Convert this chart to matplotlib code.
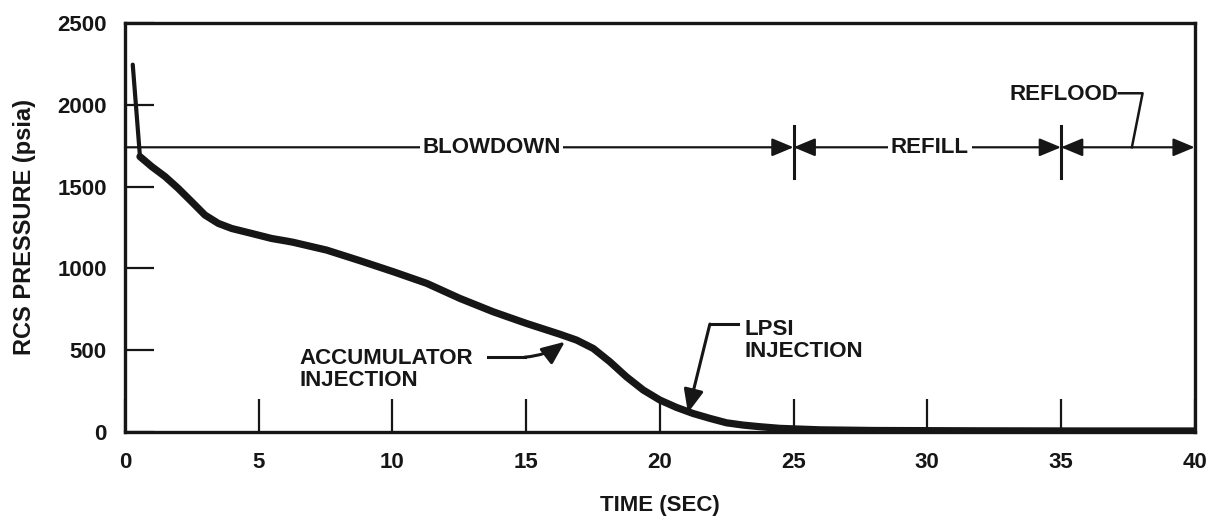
import matplotlib
matplotlib.use("Agg")
import matplotlib.pyplot as plt

# RCS pressure during a large break LOCA
time_s = [0.29, 0.56, 1.0, 1.5, 1.99, 2.49, 2.99, 3.49, 3.99, 4.73, 5.48,
          5.98, 6.28, 7.54, 8.79, 10.03, 11.28, 12.52, 13.77, 15.01, 16.26,
          16.89, 17.51, 18.13, 18.75, 19.38, 20.0, 20.62, 21.24, 21.87,
          22.49, 23.11, 23.74, 24.49, 26.0, 28.0, 32.0, 36.0, 40.0]
pressure_psia = [2245, 1683, 1622, 1561, 1489, 1408, 1326, 1275, 1244, 1214,
                 1183, 1169, 1160, 1112, 1047, 980, 909, 817, 735, 664, 598,
                 562, 511, 430, 338, 257, 196, 151, 114, 84, 57, 43, 33, 23,
                 14, 10, 8, 7, 7]

# phases: (label, start, end)
phases = [("BLOWDOWN", 0, 25), ("REFILL", 25, 35), ("REFLOOD", 35, 40)]
phase_level = 1740
x_ticks = [0, 5, 10, 15, 20, 25, 30, 35, 40]
y_ticks = [0, 500, 1000, 1500, 2000, 2500]

ink = "#161616"
plt.rcParams["font.family"] = ["Liberation Sans", "DejaVu Sans"]
plt.rcParams["font.weight"] = "bold"

fig = plt.figure(figsize=(12.17, 5.2), dpi=100)
ax = fig.add_axes([0.1027, 0.169, 0.879, 0.787])

# initial spike is drawn thinner than the main curve
ax.plot(time_s[:2], pressure_psia[:2], color=ink, lw=3, solid_capstyle="round")
ax.plot(time_s[1:], pressure_psia[1:], color=ink, lw=5.2,
        solid_capstyle="round", solid_joinstyle="round")

ax.set_xlim(0, 40)
ax.set_ylim(0, 2500)
ax.set_xticks(x_ticks)
ax.set_yticks(y_ticks)
ax.tick_params(axis="x", direction="in", length=24, width=1.6, pad=14,
               labelsize=16, colors=ink)
ax.tick_params(axis="y", direction="in", length=21, width=1.6, pad=13,
               labelsize=16, colors=ink)
for lab in ax.get_xticklabels() + ax.get_yticklabels():
    lab.set_fontweight("bold")
for sp in ax.spines.values():
    sp.set_linewidth(2.4)
    sp.set_color(ink)

ax.set_xlabel("TIME (SEC)", fontsize=16, fontweight="bold", color=ink)
ax.set_ylabel("RCS PRESSURE (psia)", fontsize=17, fontweight="bold", color=ink)
ax.xaxis.set_label_coords(0.5, -0.154)
ax.yaxis.set_label_coords(-0.083, 0.5)

# phase arrows along the top
arrow_kw = dict(color=ink, lw=1.6, shrinkA=0, shrinkB=0,
                mutation_scale=22)
ax.annotate("", xy=(25, phase_level), xytext=(0, phase_level),
            arrowprops=dict(arrowstyle="-|>,head_width=0.25,head_length=0.6",
                            **arrow_kw))
for label, start, end in phases[1:]:
    ax.annotate("", xy=(end, phase_level), xytext=(start, phase_level),
                arrowprops=dict(arrowstyle="<|-|>,head_width=0.25,head_length=0.6",
                                **arrow_kw))
for x in (25, 35):
    ax.plot([x, x], [1550, 1870], color=ink, lw=2.2)

text_kw = dict(fontsize=16, fontweight="bold", color=ink)
box = dict(facecolor="white", edgecolor="none", pad=2)
ax.text(13.7, phase_level, "BLOWDOWN", ha="center", va="center", bbox=box, **text_kw)
ax.text(30.1, phase_level, "REFILL", ha="center", va="center", bbox=box, **text_kw)
ax.text(35.1, 2065, "REFLOOD", ha="center", va="center", **text_kw)
ax.plot([37.16, 38.05, 37.65], [2070, 2070, phase_level], color=ink, lw=1.8)

# accumulator injection callout
ax.text(6.54, 382, "ACCUMULATOR\nINJECTION", ha="left", va="center",
        linespacing=1.05, **text_kw)
ax.plot([13.57, 14.95], [458, 458], color=ink, lw=2.2)
ax.annotate("", xy=(16.45, 552), xytext=(14.95, 458),
            arrowprops=dict(arrowstyle="-|>,head_width=0.3,head_length=0.7",
                            color=ink, lw=2.2, shrinkA=0, shrinkB=0,
                            mutation_scale=20,
                            connectionstyle="arc3,rad=0.15"))

# LPSI injection callout
ax.text(23.18, 561, "LPSI\nINJECTION", ha="left", va="center",
        linespacing=1.05, **text_kw)
ax.plot([22.92, 21.87], [660, 660], color=ink, lw=2.2)
ax.annotate("", xy=(21.05, 118), xytext=(21.87, 660),
            arrowprops=dict(arrowstyle="-|>,head_width=0.3,head_length=0.7",
                            color=ink, lw=2.2, shrinkA=0, shrinkB=0,
                            mutation_scale=20))

fig.savefig("out.png", dpi=100)
